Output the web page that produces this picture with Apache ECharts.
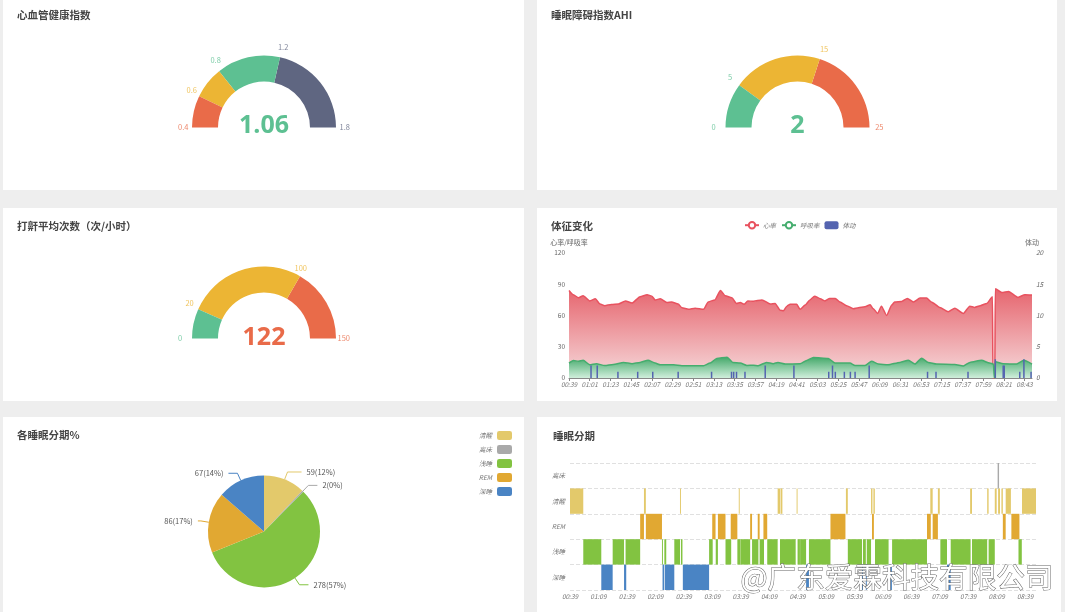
<!DOCTYPE html>
<html>
<head>
<meta charset="utf-8">
<style>
  html, body { margin: 0; padding: 0; background: #eeeeee; }
  #chart { width: 1065px; height: 612px; }
</style>
<script src="https://cdn.jsdelivr.net/npm/echarts@6/dist/echarts.min.js"></script>
</head>
<body>
<div id="chart"></div>
<script>
const RED = '#e96b49', YELLOW = '#ecb534', GREEN = '#5dc092', NAVY = '#5f6681';

// Gauges
const cardioValue = 1.06;
const cardioRange = [0.4, 1.8];
const cardioStops = [[0.2 / 1.4, RED], [0.4 / 1.4, YELLOW], [0.8 / 1.4, GREEN], [1, NAVY]];
const cardioTicks = [0.4, 0.6, 0.8, 1.2, 1.8];
const cardioTickColors = [RED, YELLOW, GREEN, NAVY, NAVY];

const ahiValue = 2;
const ahiRange = [0, 25];
const ahiStops = [[0.2, GREEN], [0.6, YELLOW], [1, RED]];
const ahiTicks = [0, 5, 15, 25];
const ahiTickColors = [GREEN, GREEN, YELLOW, RED];

const snoreValue = 122;
const snoreRange = [0, 150];
const snoreStops = [[20 / 150, GREEN], [100 / 150, YELLOW], [1, RED]];
const snoreTicks = [0, 20, 100, 150];
const snoreTickColors = [GREEN, YELLOW, YELLOW, RED];

// Vital signs: minutes since 00:39
const vitalTickLabels = ['00:39','01:01','01:23','01:45','02:07','02:29','02:51','03:13','03:35','03:57','04:19','04:41','05:03','05:25','05:47','06:09','06:31','06:53','07:15','07:37','07:59','08:21','08:43'];
const heartMinutes = [0,4.6,10,15,22,28,33,38,45,52.5,60,67,75.5,83,88,91.5,97,104,109,116,120,127,134,143,148,155,161,166,173,178,182,186,190,196,205,214,219,224.5,228,231.5,235,242,245.5,251,256,261,267,272,277,283,288,295,302,307.5,314.5,320,323,328,332,337.5,343,346,353.5,359.5,366,373,380,385,394,403,410,419,426,431,437,444,450,450.5,452.5,453,460,467,477,484.5,492];
const heartRate = [84,80,77,79,74,76,71,69.4,70.6,71,74,72,78,80,78.6,75,76,72.5,73,71,67.5,66,67,66,73,75,84,79,77,71.6,72.5,70.7,74,73.6,75,71,71.6,65,64.6,69,70.7,70.7,66,70,75,78.6,76,74,76.4,76.4,73,69.4,66.5,67.5,68.4,70.3,66.8,62,69,60,70,73,73.5,76.4,73,76.7,76.7,73,67.8,63.7,67,62,69,67.8,69.4,71.6,78,0,0,85.6,82,83,77.4,80,79.6];
const breathMinutes = [0,4.6,10,15,22,29,38,47,58,67,75.5,84,91.5,97,111,120,143,150,157,168,174,182,189,196,201,210,217,222,230,245.5,252.6,259.7,275.6,282.7,298.6,304,314.5,321.6,328.7,339,351.7,360.6,367.6,374.7,381.8,390.6,410,419,426,438.4,447,451,452,453,461.4,475.6,483.4,492];
const breathRate = [14.3,16.9,16,17,12.7,13.7,12,13,15,13.7,15,17,14.3,12.7,12.7,11.8,11.8,14.3,18.8,20,15,14.3,12,12.3,11.8,15,13.7,15,13.4,13.7,16.9,19.7,18.8,14.3,14.3,12,12,16,13.4,12.7,15,17,13.4,19,15,13.4,13,11.5,15,17,14.3,13.4,0,15.5,13.7,13.4,17,13.4];
const moveMinutes = [23.4,30,52,73,89,116,151.5,172.7,175,178,187,208.5,239,276,280,283,292.6,299,304,319,381,390,424,453,461.4,462.5,479,483.4,491];
const moveCounts = [2,2,1,1,1,1,1,1,1,1,1,2,2,1,2,1,1,1,1,2,1,1,1,3,2,2,1,3,1];

// Sleep stage totals
const stageNames = ['清醒', '离床', '浅睡', 'REM', '深睡'];
const stageMinutes = [59, 2, 278, 86, 67];
const stageColors = ['#e3c96b', '#a9a9a9', '#82c341', '#e1a832', '#4a84c4'];
const stageLeaderEnds = [14, 9, 9, 3, 9];

// Hypnogram spans: [start minute, end minute] per stage
const hypnoRows = ['深睡', '浅睡', 'REM', '清醒', '离床'];
const hypnoTickLabels = ['00:39','01:09','01:39','02:09','02:39','03:09','03:39','04:09','04:39','05:09','05:39','06:09','06:39','07:09','07:39','08:09','08:39'];
const awakeSpans = [[0,14],[78,80],[116,117],[178,179],[219,221.5],[222,224],[239,240],[291,293],[317.5,319],[320,321.5],[380,382.5],[388,390],[422,424],[440,441.5],[448,450],[451.5,453.5],[455,456.5],[459.5,465],[476.7,491.5]];
const outOfBedSpans = [[451,452.5]];
const remSpans = [[74,78],[80,97],[150,153.5],[156,164],[169.5,176.5],[190,192],[198,200],[204,208],[274.7,290.5],[318.5,320.5],[376.5,380.5],[382.5,388],[456.5,459.5],[465.5,474]];
const lightSpans = [[14,33],[45,57],[58.6,74],[97,98],[99.5,101.5],[110,116],[117,118.6],[146.7,150.5],[153.7,156],[164,170],[176.5,179.3],[179.6,190],[192,198.7],[200,204.6],[208,219],[221.5,238],[240,242.5],[242.7,249],[252,274.7],[293,308],[309,312],[313,317.5],[321.7,336],[339.7,376.5],[390.6,397.6],[401.5,422.5],[424,440],[441.5,448],[473,476.5]];
const deepSpans = [[33,45],[57,59.3],[97.6,99.3],[100,110],[119,146.7],[249,252],[308,309],[312,313],[336,339.5],[397.6,401.5]];

const panelTitles = ['心血管健康指数', '睡眠障碍指数AHI', '打鼾平均次数（次/小时）', '体征变化', '各睡眠分期%', '睡眠分期'];
const watermarkText = '@广东爱霖科技有限公司';

const FONT = '"Noto Sans CJK SC", "Noto Sans", sans-serif';

function pairs(xs, ys) { return xs.map((x, i) => [x, ys[i]]); }

function gaugeSeries(value, range, stops, ticks, tickColors, splitNumber, center, valueColor, offsetY) {
  const rich = {};
  tickColors.forEach((c, i) => { rich['t' + i] = { color: c, fontSize: 7.5, fontFamily: FONT, opacity: 0.8 }; });
  return {
    type: 'gauge',
    center, radius: 72,
    startAngle: 180, endAngle: 0,
    min: range[0], max: range[1], splitNumber,
    axisLine: { lineStyle: { width: 26, color: stops } },
    pointer: { show: false },
    progress: { show: false },
    axisTick: { show: false },
    splitLine: { show: false },
    axisLabel: {
      distance: -34,
      align: 'center',
      verticalAlign: 'middle',
      formatter: v => {
        const i = ticks.indexOf(Math.round(v * 10) / 10);
        return i < 0 ? '' : '{t' + i + '|' + ticks[i] + '}';
      },
      rich
    },
    title: { show: false },
    detail: {
      valueAnimation: false,
      offsetCenter: [0, offsetY],
      fontSize: 25, fontWeight: 'bold', fontFamily: '"Open Sans", sans-serif',
      color: valueColor,
      formatter: String(value)
    },
    data: [{ value }],
    animation: false
  };
}

function spanSeries(name, spans, rowIndex, color) {
  return {
    type: 'custom',
    name,
    xAxisIndex: 1, yAxisIndex: 2,
    encode: { x: [0, 1], y: 2 },
    data: spans.map(s => [s[0], s[1], rowIndex]),
    renderItem: (params, api) => {
      const a = api.coord([api.value(0), api.value(2)]);
      const b = api.coord([api.value(1), api.value(2)]);
      const h = api.size([0, 1])[1];
      return {
        type: 'rect',
        shape: { x: a[0], y: a[1] - h / 2, width: b[0] - a[0], height: h },
        style: { fill: color }
      };
    },
    animation: false
  };
}

function panel(x, y, w, h) {
  return { type: 'rect', z: -10, shape: { x, y, width: w, height: h }, style: { fill: '#ffffff' }, silent: true };
}

function title(text, left, top) {
  return { text, left, top, textStyle: { fontSize: 10.5, fontWeight: 'bold', color: '#444', fontFamily: FONT } };
}

const tinyLabel = { fontSize: 6.5, color: '#777', fontStyle: 'italic', fontFamily: FONT };

const option = {
  backgroundColor: '#eeeeee',
  animation: false,
  graphic: [
    panel(3, 0, 521, 190), panel(537, 0, 520, 190),
    panel(3, 208, 521, 193), panel(537, 208, 520, 193),
    panel(3, 417, 521, 195), panel(537, 417, 524, 195),
    {
      type: 'text', z: 100, left: 740, top: 562, silent: true,
      style: { text: watermarkText, fontSize: 28.6, fontFamily: FONT, fill: '#ffffff', stroke: '#666666', lineWidth: 1 }
    }
  ],
  title: [
    title(panelTitles[0], 12, 5),
    title(panelTitles[1], 546, 5),
    title(panelTitles[2], 12, 216),
    title(panelTitles[3], 546, 216),
    title(panelTitles[4], 12, 425),
    title(panelTitles[5], 548, 426)
  ],
  legend: [
    {
      data: ['心率', '呼吸率', '体动'],
      left: 739, top: 216, itemWidth: 14, itemHeight: 8, itemGap: 5,
      textStyle: { ...tinyLabel, padding: [0, 0, 0, -1] }
    },
    {
      data: stageNames,
      orient: 'vertical', right: 548, top: 426, align: 'right',
      itemWidth: 15, itemHeight: 9, itemGap: 5,
      textStyle: tinyLabel,
      selectedMode: false
    }
  ],
  grid: [
    { left: 569, width: 463, top: 253, height: 125 },
    { left: 570, width: 466.5, top: 463, height: 127 }
  ],
  xAxis: [
    {
      type: 'value', gridIndex: 0, min: 0, max: 492, splitLine: { show: false },
      axisLine: { lineStyle: { color: '#888' } },
      axisTick: { length: 3, customValues: vitalTickLabels.map((_, i) => i * 22), lineStyle: { color: '#888' } },
      axisLabel: {
        ...tinyLabel, margin: 3,
        customValues: vitalTickLabels.map((_, i) => i * 22),
        formatter: v => vitalTickLabels[Math.round(v / 22)]
      }
    },
    {
      type: 'value', gridIndex: 1, min: 0, max: 492, splitLine: { show: false },
      axisLine: { lineStyle: { color: '#888' } },
      axisTick: { length: 3, customValues: hypnoTickLabels.map((_, i) => i * 30), lineStyle: { color: '#888' } },
      axisLabel: {
        ...tinyLabel, margin: 3,
        customValues: hypnoTickLabels.map((_, i) => i * 30),
        formatter: v => hypnoTickLabels[Math.round(v / 30)]
      }
    }
  ],
  yAxis: [
    {
      type: 'value', gridIndex: 0, min: 0, max: 120, interval: 30, position: 'left',
      name: '心率/呼吸率', nameGap: 7, nameTextStyle: { fontSize: 7, color: '#666', fontFamily: FONT, align: 'center' },
      splitLine: { show: false }, axisLine: { show: false }, axisTick: { show: false },
      axisLabel: { fontSize: 6.5, color: '#666', margin: 4, fontFamily: FONT }
    },
    {
      type: 'value', gridIndex: 0, min: 0, max: 20, interval: 5, position: 'right',
      name: '体动', nameGap: 7, nameTextStyle: { fontSize: 7, color: '#666', fontFamily: FONT },
      splitLine: { show: false }, axisLine: { show: false }, axisTick: { show: false },
      axisLabel: { fontSize: 6.5, color: '#666', margin: 4, fontStyle: 'italic', fontFamily: FONT }
    },
    {
      type: 'category', gridIndex: 1, data: hypnoRows,
      boundaryGap: true,
      axisLine: { show: false }, axisTick: { show: false },
      axisLabel: { ...tinyLabel, margin: 5 },
      splitLine: { show: true, lineStyle: { type: 'dashed', color: '#e0e0e0' } }
    }
  ],
  series: [
    gaugeSeries(cardioValue, cardioRange, cardioStops, cardioTicks, cardioTickColors, 7, [264, 127.5], GREEN, -1.5),
    gaugeSeries(ahiValue, ahiRange, ahiStops, ahiTicks, ahiTickColors, 5, [797.5, 127.5], GREEN, -1.5),
    gaugeSeries(snoreValue, snoreRange, snoreStops, snoreTicks, snoreTickColors, 15, [264, 338.5], RED, -1),
    {
      type: 'line', name: '心率', xAxisIndex: 0, yAxisIndex: 0,
      data: pairs(heartMinutes, heartRate),
      symbol: 'emptyCircle', showSymbol: false, symbolSize: 6,
      smooth: 0.2, smoothMonotone: 'x',
      lineStyle: { color: '#e8525f', width: 1.5 },
      itemStyle: { color: '#e8525f', borderWidth: 0.8 },
      areaStyle: {
        opacity: 1,
        color: {
          type: 'linear', x: 0, y: 0, x2: 0, y2: 1,
          colorStops: [{ offset: 0, color: '#e6656e' }, { offset: 1, color: '#f6d9db' }]
        }
      },
      animation: false, z: 2
    },
    {
      type: 'line', name: '呼吸率', xAxisIndex: 0, yAxisIndex: 0,
      data: pairs(breathMinutes, breathRate),
      symbol: 'emptyCircle', showSymbol: false, symbolSize: 6,
      smooth: 0.2, smoothMonotone: 'x',
      lineStyle: { color: '#45ad6e', width: 1.5 },
      itemStyle: { color: '#45ad6e', borderWidth: 0.8 },
      areaStyle: {
        opacity: 1,
        color: {
          type: 'linear', x: 0, y: 0, x2: 0, y2: 1,
          colorStops: [{ offset: 0, color: '#45a96b' }, { offset: 1, color: '#d0eedb' }]
        }
      },
      animation: false, z: 3
    },
    {
      type: 'bar', name: '体动', xAxisIndex: 0, yAxisIndex: 1,
      data: pairs(moveMinutes, moveCounts),
      barWidth: 1.5,
      itemStyle: { color: '#5464b0' },
      animation: false, z: 4
    },
    {
      type: 'pie', name: '各睡眠分期',
      center: [264, 531.5], radius: [0, 56],
      startAngle: 90, clockwise: true,
      percentPrecision: 0,
      minAngle: 0,
      data: stageNames.map((name, i) => ({
        name,
        value: stageMinutes[i],
        itemStyle: { color: stageColors[i] },
        labelLine: { length2: stageLeaderEnds[i] }
      })),
      label: { formatter: '{c}({d}%)', fontSize: 7.5, color: '#555', fontFamily: FONT },
      labelLine: { length: 8, length2: 9, lineStyle: { width: 1 } },
      animation: false
    },
    spanSeries('深睡段', deepSpans, 0, stageColors[4]),
    spanSeries('浅睡段', lightSpans, 1, stageColors[2]),
    spanSeries('REM段', remSpans, 2, stageColors[3]),
    spanSeries('清醒段', awakeSpans, 3, stageColors[0]),
    spanSeries('离床段', outOfBedSpans, 4, stageColors[1])
  ]
};

const chart = echarts.init(document.getElementById('chart'), null, { renderer: 'canvas' });
chart.setOption(option);
</script>
</body>
</html>
